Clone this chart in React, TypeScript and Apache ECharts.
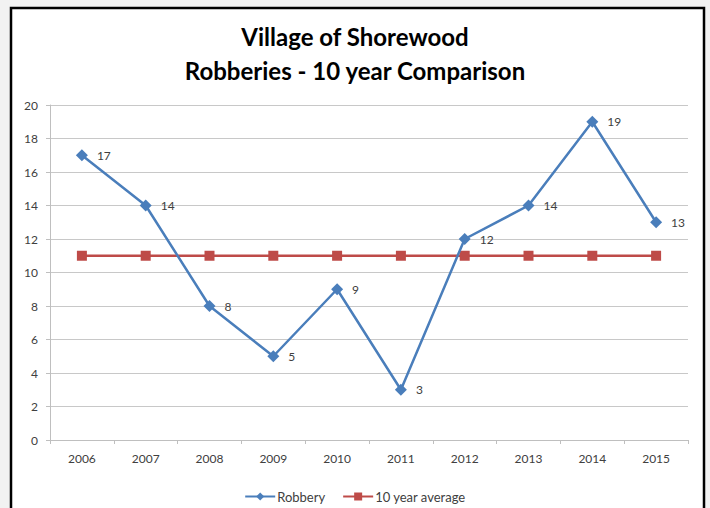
import React, { useEffect, useRef } from "react";
import * as echarts from "echarts";

const years = ["2006", "2007", "2008", "2009", "2010", "2011", "2012", "2013", "2014", "2015"];
const robbery = [17, 14, 8, 5, 9, 3, 12, 14, 19, 13];
const average = [11, 11, 11, 11, 11, 11, 11, 11, 11, 11];
const titleLines = ["Village of Shorewood", "Robberies - 10 year Comparison"];

export default function App() {
  const ref = useRef<HTMLDivElement>(null);
  useEffect(() => {
    document.body.style.margin = "0";
    const chart = echarts.init(ref.current!, null, { renderer: "svg" });
    const font = "Lato, 'Open Sans', sans-serif";
    chart.setOption({
      animation: false,
      backgroundColor: "#f2f2f2",
      textStyle: { fontFamily: font },
      graphic: [
        {
          type: "rect",
          z: -10,
          shape: { x: 11, y: 8, width: 693, height: 520 },
          style: { fill: "#ffffff", stroke: "#000000", lineWidth: 2.5 },
        },
      ],
      title: {
        text: titleLines.join("\n"),
        left: "center",
        top: 14,
        textStyle: {
          fontFamily: font,
          fontSize: 24,
          fontWeight: "bold",
          color: "#000000",
          lineHeight: 34,
        },
      },
      grid: { left: 50, right: 22, top: 105, bottom: 68, containLabel: false },
      legend: {
        top: 485,
        left: "center",
        itemWidth: 30,
        itemHeight: 10,
        itemGap: 17,
        textStyle: { fontFamily: font, fontSize: 13, color: "#404040", padding: [0, 0, 0, -3] },
        data: ["Robbery", "10 year average"],
      },
      xAxis: {
        type: "category",
        data: years,
        boundaryGap: true,
        axisLine: { lineStyle: { color: "#bfbfbf", width: 1 } },
        axisTick: { show: true, inside: false, length: 4, interval: 0, lineStyle: { color: "#bfbfbf" } },
        axisLabel: { margin: 12, color: "#404040", fontSize: 12, fontFamily: font },
        splitLine: { show: false },
      },
      yAxis: {
        type: "value",
        min: 0,
        max: 20,
        interval: 2,
        axisLine: { show: true, lineStyle: { color: "#bfbfbf", width: 1 } },
        axisTick: { show: true, length: 4, lineStyle: { color: "#bfbfbf" } },
        axisLabel: { margin: 12, color: "#404040", fontSize: 12, fontFamily: font },
        splitLine: { show: true, lineStyle: { color: "#c8c8c8", width: 1 } },
      },
      series: [
        {
          name: "Robbery",
          type: "line",
          data: robbery,
          symbol: "diamond",
          symbolSize: 12,
          lineStyle: { color: "#4a7ebb", width: 2.5 },
          itemStyle: { color: "#4a7ebb" },
          label: {
            show: true,
            position: "right",
            distance: 9,
            color: "#404040",
            fontSize: 12,
            fontFamily: font,
          },
          z: 3,
        },
        {
          name: "10 year average",
          type: "line",
          data: average,
          symbol: "rect",
          symbolSize: 10,
          lineStyle: { color: "#be4b48", width: 2.5 },
          itemStyle: { color: "#be4b48" },
          label: { show: false },
          z: 2,
        },
      ],
    });
    return () => chart.dispose();
  }, []);
  return <div ref={ref} style={{ width: 710, height: 508 }} />;
}
